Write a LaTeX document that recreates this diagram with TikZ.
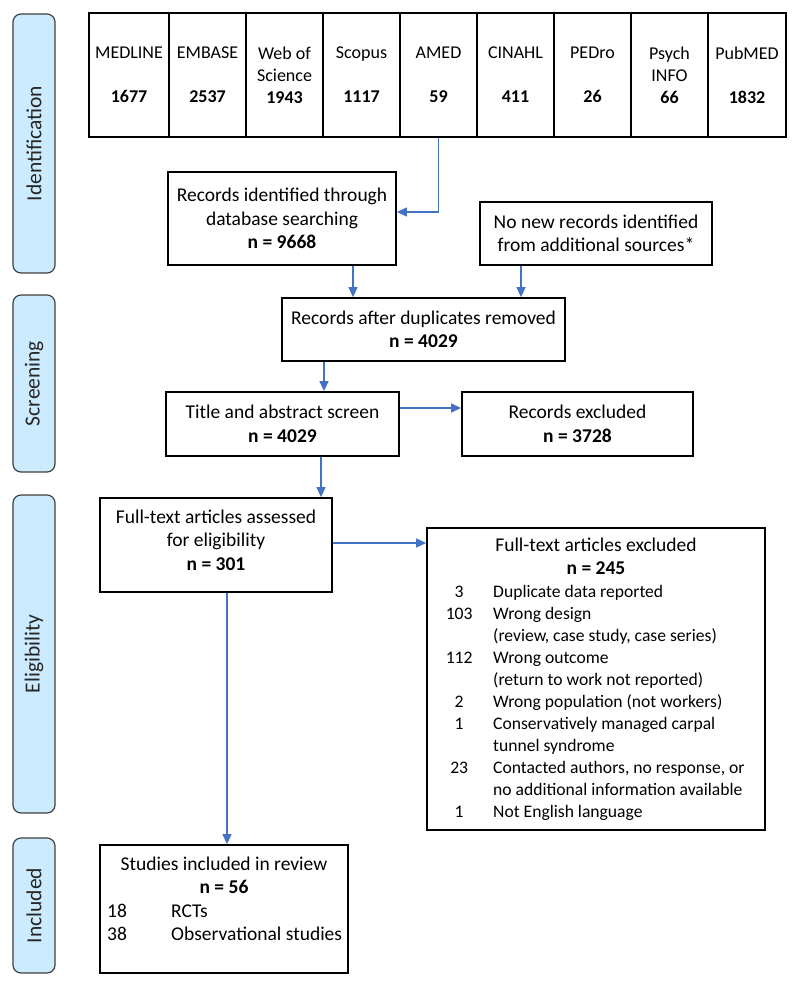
\documentclass[tikz,border=0pt]{standalone}
\usepackage{fontspec}
\setmainfont{Carlito}
\usepackage{array}
\usetikzlibrary{arrows.meta,calc}
\newcommand\myfs{\fontsize{19.5}{23.5}\selectfont}
\newcommand\dbfs{\fontsize{18}{22}\selectfont}
\newcommand\listfs{\fontsize{17.6}{22}\selectfont}
\newcommand\inclfs{\fontsize{19.5}{23}\selectfont}
\newcommand\sidefs{\fontsize{21.5}{24}\selectfont}
\definecolor{arrowblue}{HTML}{4472C4}
\definecolor{sideblue}{HTML}{CCEBFF}
\begin{document}
\begin{tikzpicture}[x=1pt,y=-1pt,
  box/.style={draw=black, line width=1.8pt, inner sep=0pt, align=center, font=\myfs},
  dbbox/.style={box, font=\dbfs, minimum height=124pt},
  txt/.style={inner sep=0pt, font=\myfs, align=center},
  side/.style={draw=black!75, line width=1.2pt, fill=sideblue, rounded corners=8pt, rotate=90, inner sep=0pt, font=\sidefs, text=black!85, minimum height=42pt},
  arr/.style={draw=arrowblue, line width=1.3pt, -{Triangle[length=10pt,width=9pt]}}]
\useasboundingbox (0,0) rectangle (800,988);

% side labels
\node[side, minimum width=259pt] (sid) at (34,143.5) {Identification};
\node[side, minimum width=177pt] (sscr) at (34,383.5) {Screening};
\node[side, minimum width=318pt] (selig) at (34,654) {Eligibility};
\node[side, minimum width=135pt] (sincl) at (34,905.5) {Included};

% databases
\node[dbbox, minimum width=80pt] (db1) at (129,75) {MEDLINE\\[22pt]\textbf{1677}};
\node[dbbox, minimum width=77pt] (db2) at (207.5,75) {EMBASE\\[22pt]\textbf{2537}};
\node[dbbox, minimum width=77pt] (db3) at (284.5,75) {Web of\\Science\\\textbf{1943}};
\node[dbbox, minimum width=77pt] (db4) at (361.5,75) {Scopus\\[22pt]\textbf{1117}};
\node[dbbox, minimum width=77pt] (db5) at (438.5,75) {AMED\\[22pt]\textbf{59}};
\node[dbbox, minimum width=77pt] (db6) at (515.5,75) {CINAHL\\[22pt]\textbf{411}};
\node[dbbox, minimum width=77pt] (db7) at (592.5,75) {PEDro\\[22pt]\textbf{26}};
\node[dbbox, minimum width=77pt] (db8) at (669.5,75) {Psych\\INFO\\\textbf{66}};
\node[dbbox, minimum width=78pt] (db9) at (747,75) {PubMED\\[22pt]\textbf{1832}};

% main boxes
\node[box, minimum width=228pt, minimum height=93pt] (rid) at (282,218.5) {Records identified through\\database searching\\\textbf{n = 9668}};
\node[box, minimum width=232pt, minimum height=63pt] (nonew) at (596,233.5) {No new records identified\\from additional sources*};
\node[box, minimum width=283pt, minimum height=63pt] (dup) at (423.5,329.5) {Records after duplicates removed\\\textbf{n = 4029}};
\node[box, minimum width=233pt, minimum height=64pt] (title) at (282.5,424) {Title and abstract screen\\\textbf{n = 4029}};
\node[box, minimum width=231pt, minimum height=64pt] (recexcl) at (577.5,424) {Records excluded\\\textbf{n = 3728}};
\node[box, minimum width=232pt, minimum height=94pt] (fta) at (216,545) {};
\node[txt] (ftatext) at (216,540) {Full-text articles assessed\\for eligibility\\\textbf{n = 301}};
\node[box, minimum width=338pt, minimum height=302pt] (exc) at (596,679) {};
\node[box, minimum width=248pt, minimum height=128pt] (incl) at (224,909) {};

% texts inside excluded box
\node[txt, anchor=north] (exctitle) at (596,537.3) {Full-text articles excluded\\\textbf{n = 245}};
\node[txt, font=\listfs, anchor=north west] (exclist) at (439,581.6) {%
\begin{tabular}{@{}>{\centering\arraybackslash}p{40pt}@{\hspace{14pt}}l@{}}
3 & Duplicate data reported\\
103 & Wrong design\\
 & (review, case study, case series)\\
112 & Wrong outcome\\
 & (return to work not reported)\\
2 & Wrong population (not workers)\\
1 & Conservatively managed carpal\\
 & tunnel syndrome\\
23 & Contacted authors, no response, or\\
 & no additional information available\\
1 & Not English language
\end{tabular}};

% texts inside included box
\node[txt, anchor=north] (incltitle) at (224,856.3) {Studies included in review\\\textbf{n = 56}};
\node[txt, font=\inclfs, anchor=north west] (incllist) at (107,900.9) {%
\begin{tabular}{@{}p{64pt}@{}l@{}}
18 & RCTs\\
38 & Observational studies
\end{tabular}};

% connectors
\draw[arr] (db5.south) |- ($(rid.east)+(0,-6.5)$);
\draw[arr] ([xshift=71pt]rid.south) -- ([xshift=71pt]rid.south |- dup.north);
\draw[arr] ([xshift=-75pt]nonew.south) -- ([xshift=-75pt]nonew.south |- dup.north);
\draw[arr] ([xshift=-99.5pt]dup.south) -- ([xshift=-99.5pt]dup.south |- title.north);
\draw[arr] ([yshift=16pt]title.east) -- ([yshift=16pt]title.east -| recexcl.west);
\draw[arr] ([xshift=38.5pt]title.south) -- ([xshift=38.5pt]title.south |- fta.north);
\draw[arr] ([yshift=2pt]fta.east) -- ([yshift=2pt]fta.east -| exc.west);
\draw[arr] ([xshift=11pt]fta.south) -- ([xshift=11pt]fta.south |- incl.north);
\end{tikzpicture}
\end{document}
